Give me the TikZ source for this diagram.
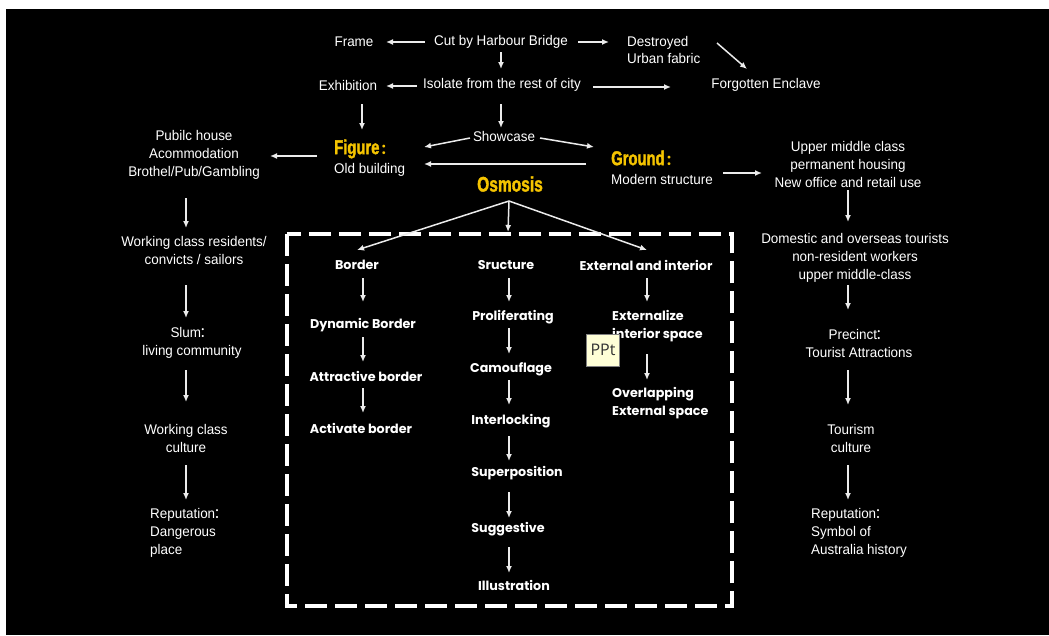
\documentclass[tikz,border=0pt]{standalone}
\usepackage{fontspec}
\setmainfont{Liberation Sans}[FakeStretch=0.96]
\newfontfamily\impactf{Liberation Sans}[FakeStretch=0.74, FakeBold=1.6]
\newfontfamily\boxf{Poppins}
\newfontfamily\cjk{Noto Sans CJK SC}
\newfontfamily\pptf{Open Sans}
\newcommand{\fwcolon}{{\kern-0.12em\cjk ：}}
\newcommand{\ttlcolon}{{\kern0.05em\cjk\fontsize{14}{14}\selectfont ：}}
\usetikzlibrary{arrows.meta}
\definecolor{gold}{RGB}{245,196,0}
\definecolor{linec}{RGB}{235,235,235}
\definecolor{cream}{RGB}{255,255,215}
\begin{document}
\begin{tikzpicture}[x=1pt,y=-1pt,
  txt/.style={text=white, inner sep=0pt, font=\fontsize{14}{18}\selectfont, align=center},
  ltxt/.style={txt, align=left, anchor=west},
  ttl/.style={text=gold, inner sep=0pt, font=\impactf\bfseries\fontsize{20}{22}\selectfont, anchor=west},
  bx/.style={text=white, inner sep=0pt, font=\boxf\bfseries\fontsize{12.7}{18}\selectfont, align=center},
  lbx/.style={bx, align=left, anchor=west},
  ar/.style={draw=linec, line width=1.5pt, -{Latex[length=7pt,width=6pt]}},
]
\useasboundingbox (0,0) rectangle (1049,635);
\fill[white] (0,0) rectangle (1049,635);
\fill[black] (6,9) rectangle (1049,635);

% top part
\node[txt] (frame) at (354,42) {Frame};
\node[txt] (cut) at (501,42) {Cut by Harbour Bridge};
\node[ltxt, font=\fontsize{14}{16.5}\selectfont] (destroyed) at (627,50) {Destroyed\\Urban fabric};
\node[txt] (exhib) at (348,85) {Exhibition};
\node[txt] (iso) at (502,85) {Isolate from the rest of city};
\node[txt] (forgot) at (766,85) {Forgotten Enclave};
\node[txt] (show) at (504,136) {Showcase};
\node[ttl] (figT) at (334,149) {Figure\ttlcolon};
\node[ltxt] (figB) at (334,170) {Old building};
\node[ttl] (groundT) at (611,158) {Ground\ttlcolon};
\node[ltxt] (groundB) at (611,179) {Modern structure};
\node[ttl, anchor=center, font=\impactf\bfseries\fontsize{21}{22}\selectfont] (osm) at (510,184) {Osmosis};

% left column
\node[txt] (pub) at (194,155) {Pubilc house\\Acommodation\\Brothel/Pub/Gambling};
\node[txt] (wcr) at (194,250) {Working class residents/\\convicts / sailors};
\node[txt] (slum) at (192,343) {Slum\fwcolon\\living community};
\node[txt] (wcc) at (186,438) {Working class\\culture};
\node[ltxt] (repl) at (150,533) {Reputation\fwcolon\\Dangerous\\place};

% right column
\node[txt] (upper) at (848,164) {Upper middle class\\permanent housing\\New office and retail use};
\node[txt] (dom) at (855,258) {Domestic and overseas tourists\\non-resident workers\\upper middle-class};
\node[txt] (prec) at (859,343) {Precinct\fwcolon\\Tourist Attractions};
\node[txt] (tour) at (851,438) {Tourism\\culture};
\node[ltxt] (repr) at (811,533) {Reputation\fwcolon\\Symbol of\\Australia history};

% dashed box
\draw[white, line width=4pt, dash pattern=on 22pt off 8pt] (287,234) rectangle (732,606);

\node[bx] (border) at (357,265) {Border};
\node[bx] (struct) at (506,265) {Sructure};
\node[bx] (ext) at (646,265) {External and interior};
\node[bx] (dyn) at (363,325) {Dynamic Border};
\node[bx] (attr) at (366,376) {Attractive border};
\node[bx] (act) at (361,428) {Activate border};
\node[bx] (prolif) at (513,317) {Proliferating};
\node[bx] (camo) at (511,369) {Camouflage};
\node[bx] (inter) at (511,421) {Interlocking};
\node[bx] (super) at (517,473) {Superposition};
\node[bx] (sugg) at (508,529) {Suggestive};
\node[bx] (illus) at (514,585) {Illustration};
\node[lbx] (extz) at (612,326) {Externalize\\interior space};
\node[lbx] (overl) at (612,403) {Overlapping\\External space};

% arrows
\draw[ar] ([shift={(-76,0)}]cut.center) -- ([shift={(32,0)}]frame.center);
\draw[ar] ([shift={(77,0)}]cut.center) -- ([shift={(-18,-8)}]destroyed.west);
\draw[ar] ([shift={(0,10)}]cut.center) -- ([shift={(-1,-16)}]iso.center);
\draw[ar] ([shift={(90,-7)}]destroyed.west) -- ([shift={(-19,-16)}]forgot.center);
\draw[ar] ([shift={(-85,1)}]iso.center) -- ([shift={(38,1)}]exhib.center);
\draw[ar] ([shift={(91,2)}]iso.center) -- ([shift={(-95,2)}]forgot.center);
\draw[ar] ([shift={(14,19)}]exhib.center) -- ([shift={(28,-19)}]figT.west);
\draw[ar] ([shift={(-1,19)}]iso.center) -- ([shift={(-3,-8)}]show.center);
\draw[ar] ([shift={(-34,2)}]show.center) -- ([shift={(90,-2)}]figT.west);
\draw[ar] ([shift={(36,2)}]show.center) -- ([shift={(-17,-11)}]groundT.west);
\draw[ar] ([shift={(-25,-15)}]groundB.west) -- ([shift={(90,-6)}]figB.west);
\draw[ar] ([shift={(-17,7)}]figT.west) -- ([shift={(76,1)}]pub.center);
\draw[ar] ([shift={(112,-6)}]groundB.west) -- ([shift={(-86,9)}]upper.center);
\draw[ar] ([shift={(0,26)}]upper.center) -- ([shift={(-7,-36)}]dom.center);
\draw[ar] ([shift={(-7,27)}]dom.center) -- ([shift={(-11,-33)}]prec.center);
\draw[ar] ([shift={(-11,27)}]prec.center) -- ([shift={(-3,-33)}]tour.center);
\draw[ar] ([shift={(-3,27)}]tour.center) -- ([shift={(37,-33)}]repr.west);
\draw[ar] ([shift={(-8,43)}]pub.center) -- ([shift={(-8,-22)}]wcr.center);
\draw[ar] ([shift={(-8,35)}]wcr.center) -- ([shift={(-6,-25)}]slum.center);
\draw[ar] ([shift={(-6,27)}]slum.center) -- ([shift={(0,-36)}]wcc.center);
\draw[ar] ([shift={(0,27)}]wcc.center) -- ([shift={(36,-33)}]repl.west);
\draw[ar] ([shift={(-1,17)}]osm.center) -- ([shift={(0,-15)}]border.center);
\draw[ar] ([shift={(-1,17)}]osm.center) -- ([shift={(2,-33)}]struct.center);
\draw[ar] ([shift={(-1,17)}]osm.center) -- ([shift={(1,-15)}]ext.center);
\draw[ar] ([shift={(6,13)}]border.center) -- ([shift={(0,-23)}]dyn.center);
\draw[ar] ([shift={(0,12)}]dyn.center) -- ([shift={(-3,-14)}]attr.center);
\draw[ar] ([shift={(-3,12)}]attr.center) -- ([shift={(2,-15)}]act.center);
\draw[ar] ([shift={(3,13)}]struct.center) -- ([shift={(-4,-15)}]prolif.center);
\draw[ar] ([shift={(-4,11)}]prolif.center) -- ([shift={(-2,-15)}]camo.center);
\draw[ar] ([shift={(-2,11)}]camo.center) -- ([shift={(-2,-16)}]inter.center);
\draw[ar] ([shift={(-2,15)}]inter.center) -- ([shift={(-8,-12)}]super.center);
\draw[ar] ([shift={(-8,19)}]super.center) -- ([shift={(1,-11)}]sugg.center);
\draw[ar] ([shift={(1,18)}]sugg.center) -- ([shift={(-5,-12)}]illus.center);
\draw[ar] ([shift={(1,13)}]ext.center) -- ([shift={(35,-24)}]extz.west);
\draw[ar] ([shift={(35,28)}]extz.west) -- ([shift={(35,-23)}]overl.west);

% tooltip
\node[draw=gray, fill=cream, minimum width=33pt, minimum height=32pt, inner sep=0pt,
      font=\pptf\fontsize{16}{18}\selectfont, text=black!80] (ppt) at (603,350) {PPt};
\end{tikzpicture}
\end{document}
